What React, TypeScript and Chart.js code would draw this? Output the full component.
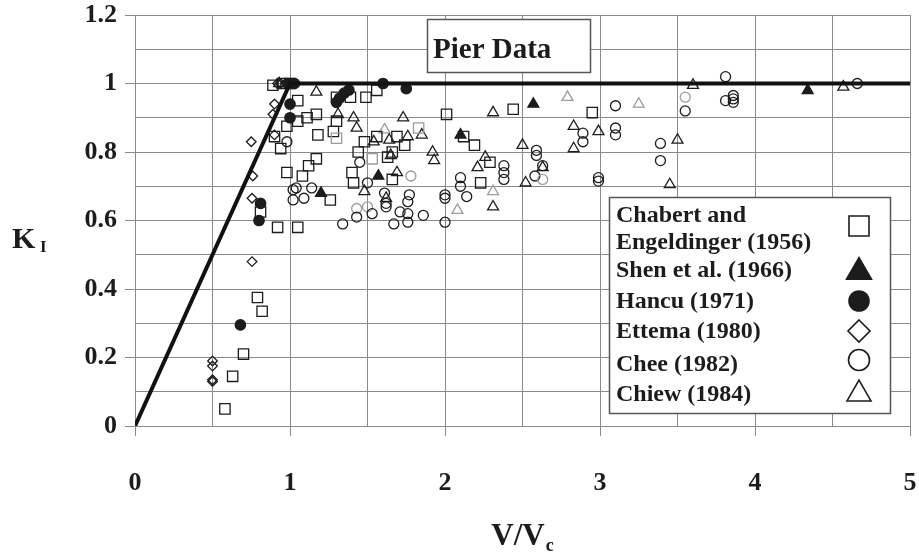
import React, { useEffect, useRef } from "react";
import { Chart, registerables } from "chart.js";

Chart.register(...registerables);

// Scour-intensity factor K_I versus flow-velocity ratio V/Vc, pier data sets
const seriesNames = [
  ["Chabert and", "Engeldinger (1956)"],
  ["Shen et al. (1966)"],
  ["Hancu (1971)"],
  ["Ettema (1980)"],
  ["Chee (1982)"],
  ["Chiew (1984)"],
];

const chabertX = [0.58, 0.63, 0.70, 0.79, 0.82, 0.81, 0.92, 1.05, 0.98, 1.08, 1.12, 1.17, 0.94, 0.90, 0.98, 1.05, 1.11, 1.17, 1.05, 1.18, 0.89, 0.95, 1.0, 1.30, 1.39, 1.49, 1.56, 1.28, 1.30, 1.30, 1.48, 1.56, 1.69, 1.74, 1.83, 1.44, 1.53, 1.63, 1.66, 2.01, 1.40, 1.41, 1.66, 1.26, 2.44, 2.95, 2.12, 2.19, 2.29, 2.23];
const chabertY = [0.05, 0.145, 0.21, 0.375, 0.335, 0.625, 0.58, 0.58, 0.74, 0.73, 0.76, 0.78, 0.81, 0.845, 0.875, 0.89, 0.90, 0.91, 0.95, 0.85, 0.995, 1.0, 1.0, 0.96, 0.96, 0.96, 0.98, 0.86, 0.89, 0.84, 0.83, 0.845, 0.845, 0.82, 0.87, 0.80, 0.78, 0.785, 0.80, 0.91, 0.74, 0.71, 0.72, 0.66, 0.925, 0.915, 0.845, 0.82, 0.77, 0.71];
const chabertFaint = [29, 34, 36];

const shenX = [1.20, 1.57, 2.10, 2.57, 4.34];
const shenY = [0.68, 0.73, 0.85, 0.94, 0.98];

const hancuX = [0.68, 0.81, 0.80, 1.00, 1.00, 1.00, 1.02, 1.30, 1.32, 1.35, 1.38, 1.60, 1.75];
const hancuY = [0.295, 0.65, 0.60, 0.94, 0.90, 1.00, 1.00, 0.945, 0.957, 0.972, 0.981, 1.00, 0.985];

const ettemaX = [0.50, 0.50, 0.50, 0.50, 0.755, 0.755, 0.76, 0.75, 0.90, 0.89, 0.90, 0.92, 0.94, 0.97];
const ettemaY = [0.19, 0.175, 0.135, 0.13, 0.48, 0.665, 0.73, 0.83, 0.94, 0.91, 0.85, 1.0, 1.0, 1.0];

const cheeX = [0.98, 1.02, 1.04, 1.02, 1.09, 1.14, 0.99, 1.03, 1.34, 1.43, 1.43, 1.50, 1.53, 1.45, 1.50, 1.61, 1.62, 1.62, 1.67, 1.71, 1.76, 1.77, 1.76, 1.76, 1.86, 1.78, 2.00, 2.00, 2.00, 2.10, 2.10, 2.14, 2.38, 2.38, 2.38, 2.59, 2.59, 2.63, 2.58, 2.63, 2.89, 2.89, 2.99, 2.99, 3.10, 3.10, 3.10, 3.39, 3.39, 3.55, 3.55, 3.81, 3.81, 3.86, 3.86, 3.86, 4.66];
const cheeY = [0.83, 0.69, 0.695, 0.66, 0.665, 0.695, 1.0, 1.0, 0.59, 0.635, 0.61, 0.64, 0.62, 0.77, 0.71, 0.68, 0.65, 0.64, 0.59, 0.625, 0.655, 0.675, 0.62, 0.595, 0.615, 0.73, 0.675, 0.665, 0.595, 0.725, 0.70, 0.67, 0.76, 0.74, 0.72, 0.805, 0.79, 0.76, 0.73, 0.72, 0.855, 0.83, 0.725, 0.715, 0.935, 0.87, 0.85, 0.825, 0.775, 0.96, 0.92, 1.02, 0.95, 0.965, 0.955, 0.945, 1.0];
const cheeFaint = [9, 11, 25, 39, 49];

const chiewX = [1.17, 0.93, 1.31, 1.41, 1.43, 1.61, 1.54, 1.64, 1.73, 1.76, 1.85, 1.92, 1.93, 1.65, 1.69, 1.48, 1.62, 2.08, 2.31, 2.79, 2.83, 2.83, 2.99, 2.50, 2.26, 2.21, 2.52, 2.31, 2.31, 2.63, 3.25, 3.60, 3.50, 3.45, 4.57];
const chiewY = [0.975, 1.0, 0.91, 0.90, 0.87, 0.865, 0.83, 0.835, 0.90, 0.845, 0.85, 0.80, 0.775, 0.79, 0.74, 0.685, 0.665, 0.63, 0.915, 0.96, 0.875, 0.81, 0.86, 0.82, 0.785, 0.755, 0.71, 0.685, 0.64, 0.755, 0.94, 0.995, 0.835, 0.705, 0.99];
const chiewFaint = [5, 17, 19, 27, 30];

// Envelope: K_I = V/Vc up to 1, then constant 1
const envelopeX = [0, 1, 5];
const envelopeY = [0, 1, 1];

const xTicks = [0, 1, 2, 3, 4, 5];
const yTicks = [0, 0.2, 0.4, 0.6, 0.8, 1, 1.2];

const INK = "#1c1c1c";
const FAINT = "#9c9c9c";
const GRID = "#8a8a8a";
const SERIF = "'Liberation Serif', 'Times New Roman', serif";

const pts = (xs: number[], ys: number[]) => xs.map((x, i) => ({ x, y: ys[i] }));
const near = (v: number, list: number[]) => list.some((t) => Math.abs(t - v) < 1e-6);
const edge = (faint: number[]) => (c: any) => (faint.includes(c.dataIndex) ? FAINT : INK);

function drawSymbol(ctx: CanvasRenderingContext2D, kind: string, x: number, y: number, s: number, filled: boolean) {
  ctx.beginPath();
  if (kind === "square") {
    ctx.rect(x - s / 2, y - s / 2, s, s);
  } else if (kind === "triangle") {
    const h = (s * Math.sqrt(3)) / 2;
    ctx.moveTo(x, y - (2 * h) / 3);
    ctx.lineTo(x + s / 2, y + h / 3);
    ctx.lineTo(x - s / 2, y + h / 3);
    ctx.closePath();
  } else if (kind === "circle") {
    ctx.arc(x, y, s / 2, 0, Math.PI * 2);
  } else if (kind === "diamond") {
    ctx.moveTo(x, y - s / 2);
    ctx.lineTo(x + s / 2, y);
    ctx.lineTo(x, y + s / 2);
    ctx.lineTo(x - s / 2, y);
    ctx.closePath();
  }
  ctx.fillStyle = filled ? INK : "#fff";
  ctx.fill();
  ctx.strokeStyle = INK;
  ctx.lineWidth = 1.6;
  ctx.stroke();
}

const overlayPlugin = {
  id: "pierOverlay",
  afterDraw(chart: any) {
    const ctx: CanvasRenderingContext2D = chart.ctx;
    ctx.save();

    // Title box
    ctx.fillStyle = "#fff";
    ctx.fillRect(427, 19, 163, 53);
    ctx.strokeStyle = "#555";
    ctx.lineWidth = 1.5;
    ctx.strokeRect(427.5, 19.5, 163, 53);
    ctx.fillStyle = INK;
    ctx.font = `bold 29px ${SERIF}`;
    ctx.textBaseline = "alphabetic";
    ctx.textAlign = "left";
    ctx.fillText("Pier Data", 433, 58);

    // Legend box
    ctx.fillStyle = "#fff";
    ctx.fillRect(609, 197, 281, 216);
    ctx.strokeStyle = "#555";
    ctx.lineWidth = 1.5;
    ctx.strokeRect(609.5, 197.5, 281, 216);
    ctx.fillStyle = INK;
    ctx.font = `bold 24px ${SERIF}`;
    const baselines = [[222, 249], [277], [308], [338], [371], [401]];
    seriesNames.forEach((lines, i) => {
      lines.forEach((t, j) => {
        ctx.fillStyle = INK;
        ctx.fillText(t, 616, baselines[i][j]);
      });
    });
    const legendMarks: [string, number, number, boolean][] = [
      ["square", 226, 20, false],
      ["triangle", 272, 25, true],
      ["circle", 301, 20, true],
      ["diamond", 331, 22, false],
      ["circle", 360, 21, false],
      ["triangle", 394, 24, false],
    ];
    legendMarks.forEach(([k, y, s, f]) => drawSymbol(ctx, k, 859, y, s, f));

    // Axis titles with subscripts
    ctx.fillStyle = INK;
    ctx.font = `bold 30px ${SERIF}`;
    ctx.fillText("K", 12, 248);
    ctx.font = `bold 17px ${SERIF}`;
    ctx.fillText("I", 40, 252);

    ctx.font = `bold 31px ${SERIF}`;
    const vw = ctx.measureText("V/V").width;
    const cx = 518;
    ctx.fillText("V/V", cx - vw / 2, 545);
    ctx.font = `bold 18px ${SERIF}`;
    ctx.fillText("c", cx + vw / 2 + 1, 551);

    ctx.restore();
  },
};

export default function App() {
  const ref = useRef<HTMLCanvasElement | null>(null);

  useEffect(() => {
    if (!ref.current) return;
    const markerBase = {
      showLine: false,
      pointBorderWidth: 1.3,
      pointHoverRadius: 0,
      order: 1,
    };
    const chart = new Chart(ref.current, {
      type: "scatter",
      data: {
        datasets: [
          {
            ...markerBase,
            label: "Chabert and Engeldinger (1956)",
            data: pts(chabertX, chabertY),
            pointStyle: "rect",
            pointRadius: 7.3,
            pointBorderColor: edge(chabertFaint),
            pointBackgroundColor: "rgba(255,255,255,0)",
          },
          {
            ...markerBase,
            label: "Chee (1982)",
            data: pts(cheeX, cheeY),
            pointStyle: "circle",
            pointRadius: 5,
            pointBorderColor: edge(cheeFaint),
            pointBackgroundColor: "rgba(255,255,255,0)",
          },
          {
            ...markerBase,
            label: "Chiew (1984)",
            data: pts(chiewX, chiewY),
            pointStyle: "triangle",
            pointRadius: 6.3,
            pointBorderColor: edge(chiewFaint),
            pointBackgroundColor: "rgba(255,255,255,0)",
          },
          {
            ...markerBase,
            label: "Ettema (1980)",
            data: pts(ettemaX, ettemaY),
            pointStyle: "rectRot",
            pointRadius: 4.8,
            pointBorderColor: INK,
            pointBackgroundColor: "rgba(255,255,255,0)",
          },
          {
            ...markerBase,
            label: "Shen et al. (1966)",
            data: pts(shenX, shenY),
            pointStyle: "triangle",
            pointRadius: 6.3,
            pointBorderColor: INK,
            pointBackgroundColor: INK,
          },
          {
            ...markerBase,
            label: "Hancu (1971)",
            data: pts(hancuX, hancuY),
            pointStyle: "circle",
            pointRadius: 5.2,
            pointBorderColor: INK,
            pointBackgroundColor: INK,
          },
          {
            label: "envelope",
            data: pts(envelopeX, envelopeY),
            showLine: true,
            borderColor: "#111",
            borderWidth: 4,
            pointRadius: 0,
            pointHoverRadius: 0,
            order: 0,
          } as any,
        ],
      },
      options: {
        responsive: false,
        animation: false,
        events: [],
        layout: { padding: { left: 0, top: 15, right: 9, bottom: 0 } },
        plugins: {
          legend: { display: false },
          tooltip: { enabled: false },
          title: { display: false },
        },
        scales: {
          x: {
            type: "linear",
            min: 0,
            max: 5,
            afterFit: (s: any) => {
              s.height = 126;
              s.paddingLeft = 0;
              s.paddingRight = 0;
            },
            ticks: {
              stepSize: 0.5,
              autoSkip: false,
              maxRotation: 0,
              padding: 32,
              color: INK,
              font: { family: SERIF, size: 26, weight: "bold" },
              callback: (v: any) => (near(Number(v), xTicks) ? String(Number(v)) : ""),
            },
            grid: {
              color: GRID,
              lineWidth: 1,
              tickLength: 10,
              tickColor: (c: any) => (c.tick && near(c.tick.value, xTicks) ? GRID : "rgba(0,0,0,0)"),
            },
            border: { display: true, color: GRID, width: 1 },
          },
          y: {
            type: "linear",
            min: 0,
            max: 1.2,
            afterFit: (s: any) => {
              s.width = 135;
              s.paddingTop = 0;
              s.paddingBottom = 0;
            },
            ticks: {
              stepSize: 0.1,
              autoSkip: false,
              padding: 8,
              color: INK,
              font: { family: SERIF, size: 26, weight: "bold" },
              callback: (v: any) =>
                near(Number(v), yTicks) ? String(parseFloat(Number(v).toFixed(1))) : "",
            },
            grid: {
              color: GRID,
              lineWidth: 1,
              tickLength: 10,
              tickColor: (c: any) => (c.tick && near(c.tick.value, yTicks) ? GRID : "rgba(0,0,0,0)"),
            },
            border: { display: true, color: GRID, width: 1 },
          },
        },
      } as any,
      plugins: [overlayPlugin],
    });
    return () => chart.destroy();
  }, []);

  return (
    <div style={{ position: "absolute", left: 0, top: 0, width: 919, height: 552, background: "#fff" }}>
      <canvas ref={ref} width={919} height={552} />
    </div>
  );
}
